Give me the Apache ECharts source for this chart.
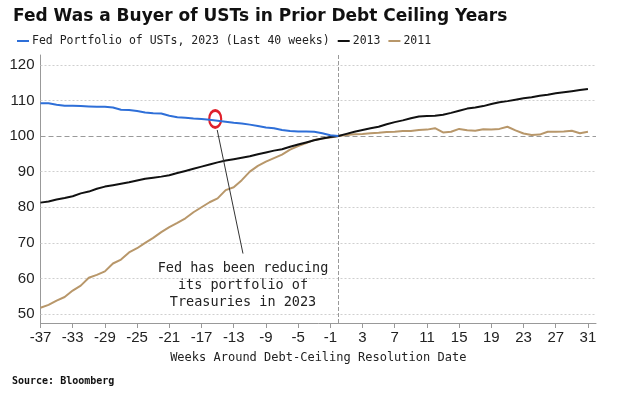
<!DOCTYPE html>
<html>
<head>
<meta charset="utf-8">
<script src="https://cdn.jsdelivr.net/npm/echarts@6/dist/echarts.min.js"></script>
<style>
  html, body { margin: 0; padding: 0; background: #fff; }
  #chart { width: 617px; height: 398px; }
</style>
</head>
<body>
<div id="chart"></div>
<script>
// weeks around the debt-ceiling resolution date
var weeks = [-37,-36,-35,-34,-33,-32,-31,-30,-29,-28,-27,-26,-25,-24,-23,-22,-21,-20,-19,-18,
  -17,-16,-15,-14,-13,-12,-11,-10,-9,-8,-7,-6,-5,-4,-3,-2,-1,0,
  1,2,3,4,5,6,7,8,9,10,11,12,13,14,15,16,17,18,19,20,21,22,23,24,25,26,27,28,29,30,31];

// Fed portfolio of USTs, 2023 (last 40 weeks) -> weeks -37..0
var fed2023 = [109.2,109.2,108.8,108.5,108.5,108.4,108.3,108.2,108.2,108.0,
  107.4,107.3,107.0,106.6,106.4,106.3,105.7,105.3,105.1,104.9,
  104.8,104.6,104.3,104.0,103.7,103.5,103.2,102.8,102.4,102.2,
  101.7,101.4,101.3,101.3,101.2,100.8,100.2,100.0];

var y2013 = [81.3,81.6,82.2,82.6,83.1,83.9,84.4,85.2,85.8,86.2,
  86.6,87.0,87.5,88.0,88.3,88.6,89.0,89.6,90.2,90.8,
  91.4,92.0,92.6,93.1,93.5,93.9,94.3,94.9,95.4,95.9,
  96.3,97.0,97.6,98.2,98.8,99.3,99.7,100.0,
  100.6,101.2,101.7,102.2,102.6,103.3,103.9,104.4,105.0,105.5,
  105.6,105.7,106.0,106.5,107.1,107.7,108.0,108.4,109.0,109.5,
  109.8,110.2,110.6,110.9,111.3,111.6,112.0,112.3,112.6,112.9,113.2];

var y2011 = [51.8,52.6,53.8,54.8,56.6,58.0,60.2,61.0,62.0,64.2,
  65.3,67.3,68.5,70.0,71.4,73.0,74.4,75.6,76.9,78.6,
  80.0,81.4,82.5,84.8,85.6,87.6,90.0,91.6,92.8,93.8,
  94.8,96.2,97.2,98.0,98.9,99.3,99.6,100.0,
  100.3,100.5,100.6,100.8,100.9,101.1,101.2,101.4,101.4,101.7,
  101.8,102.2,101.0,101.2,102.0,101.6,101.5,101.9,101.8,102.0,
  102.6,101.6,100.7,100.3,100.4,101.2,101.2,101.3,101.5,100.8,101.2];

var xTicks = [-37,-33,-29,-25,-21,-17,-13,-9,-5,-1,3,7,11,15,19,23,27,31];
var yTicks = [50,60,70,80,90,100,110,120];

function pairs(vals) {
  return vals.map(function (v, i) { return [weeks[i], v]; });
}

var chart = echarts.init(document.getElementById('chart'));

var mono = 'DejaVu Sans Mono';
var gridLines = yTicks.map(function (v) {
  if (v === 100) {
    return { yAxis: v, lineStyle: { color: '#9a9a9a', type: [5, 3], width: 1 } };
  }
  return { yAxis: v, lineStyle: { color: '#cfcfcf', type: [2, 2], width: 1 } };
});
gridLines.push({ xAxis: 0, lineStyle: { color: '#999', type: 'dashed', width: 1 } });

var option = {
  animation: false,
  backgroundColor: '#fff',
  title: {
    text: 'Fed Was a Buyer of USTs in Prior Debt Ceiling Years',
    left: 8,
    top: 3,
    textStyle: { fontFamily: 'DejaVu Sans', fontWeight: 'bold', fontSize: 17, color: '#111' }
  },
  legend: {
    data: ['Fed Portfolio of USTs, 2023 (Last 40 weeks)', '2013', '2011'],
    left: 12,
    top: 30,
    icon: 'rect',
    itemWidth: 12,
    itemHeight: 2,
    itemGap: 8,
    textStyle: { fontFamily: mono, fontSize: 11.5, color: '#222', padding: [0, 0, 0, -2] }
  },
  grid: { left: 40.5, right: 21, top: 55, bottom: 75 },
  xAxis: {
    type: 'value',
    min: -37,
    max: 32,
    name: 'Weeks Around Debt-Ceiling Resolution Date',
    nameLocation: 'middle',
    nameGap: 29,
    nameTextStyle: { fontFamily: mono, fontSize: 12, color: '#222' },
    axisLine: { show: true, onZero: false, lineStyle: { color: '#999' } },
    axisTick: { show: true, length: 5, lineStyle: { color: '#999' }, customValues: xTicks },
    axisLabel: { customValues: xTicks, fontFamily: 'Liberation Sans', fontSize: 15, color: '#222', margin: 7 },
    splitLine: { show: false }
  },
  yAxis: {
    type: 'value',
    min: 47.5,
    max: 122.75,
    axisLine: { show: true, onZero: false, lineStyle: { color: '#999' } },
    axisTick: { show: false },
    axisLabel: { customValues: yTicks, fontFamily: 'Liberation Sans', fontSize: 15, color: '#222', margin: 6 },
    splitLine: { show: false }
  },
  series: [
    {
      name: 'grid',
      type: 'line',
      data: [],
      z: 1,
      silent: true,
      markLine: {
        z: 1,
        silent: true,
        symbol: ['none', 'none'],
        label: { show: false },
        data: gridLines
      }
    },
    {
      name: '2011',
      type: 'line',
      data: pairs(y2011),
      showSymbol: false,
      z: 3,
      color: '#b8976a',
      lineStyle: { width: 2, color: '#b8976a' }
    },
    {
      name: '2013',
      type: 'line',
      data: pairs(y2013),
      showSymbol: false,
      z: 4,
      color: '#111',
      lineStyle: { width: 2, color: '#111' }
    },
    {
      name: 'Fed Portfolio of USTs, 2023 (Last 40 weeks)',
      type: 'line',
      data: pairs(fed2023),
      showSymbol: false,
      z: 5,
      color: '#2e6fd8',
      lineStyle: { width: 2, color: '#2e6fd8' },
      markLine: {
        silent: true,
        symbol: ['none', 'none'],
        label: { show: false },
        lineStyle: { color: '#333', type: 'solid', width: 1 },
        data: [[{ coord: [-15.05, 101.7] }, { coord: [-11.85, 67.0] }]]
      },
      markPoint: {
        silent: true,
        label: { show: false },
        data: [{
          coord: [-15.3, 104.8],
          symbol: 'circle',
          symbolSize: [12, 17],
          itemStyle: { color: 'rgba(0,0,0,0)', borderColor: '#e0202a', borderWidth: 2.5 }
        }]
      }
    }
  ],
  graphic: [
    {
      type: 'text',
      x: 243,
      y: 260,
      style: {
        text: 'Fed has been reducing\nits portfolio of\nTreasuries in 2023',
        textAlign: 'center',
        textVerticalAlign: 'top',
        font: '13.5px "DejaVu Sans Mono"',
        lineHeight: 17,
        fill: '#222',
        backgroundColor: '#fff'
      }
    },
    {
      type: 'text',
      x: 12,
      y: 376,
      style: {
        text: 'Source: Bloomberg',
        font: 'bold 10px "DejaVu Sans Mono"',
        fill: '#111'
      }
    }
  ]
};

chart.setOption(option);
</script>
</body>
</html>
